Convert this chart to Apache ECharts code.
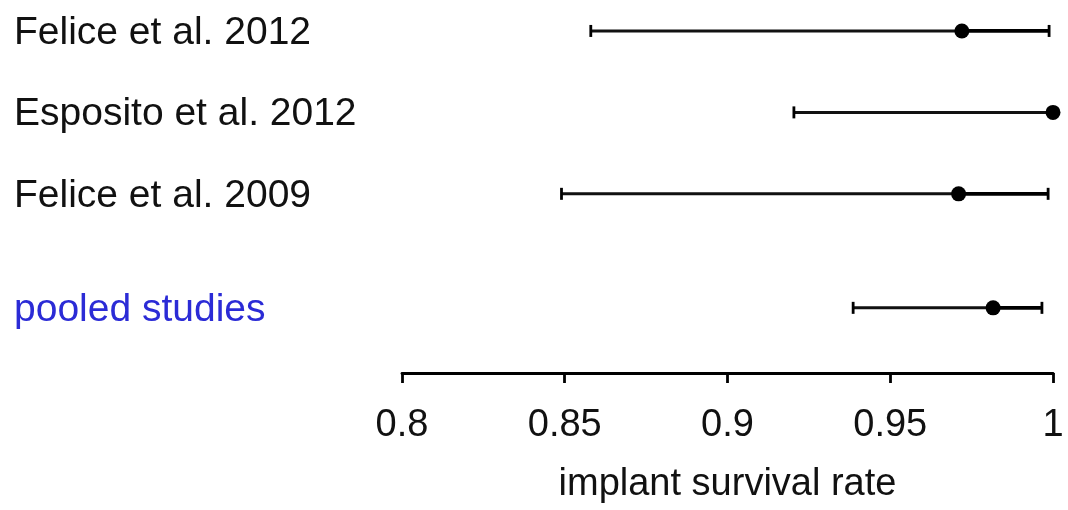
<!DOCTYPE html>
<html>
<head>
<meta charset="utf-8">
<script src="https://cdn.jsdelivr.net/npm/echarts@6/dist/echarts.min.js"></script>
<style>
html,body{margin:0;padding:0;background:#fff;}
#chart{width:1068px;height:510px;}
</style>
</head>
<body>
<div id="chart"></div>
<script>
// ---- data ----
var studies = ['Felice et al. 2012', 'Esposito et al. 2012', 'Felice et al. 2009', 'pooled studies'];
var estimate = [0.972, 1.0, 0.971, 0.9816];
var lower = [0.858, 0.9204, 0.849, 0.9386];
var upper = [0.9988, 1.0, 0.9985, 0.9966];
var xTicks = [0.8, 0.85, 0.9, 0.95, 1];
var xTitle = 'implant survival rate';

// ---- layout (row placement on the vertical value axis) ----
var rowPos = [0, 1, 2, 3.4];
var FONT = '"Liberation Sans", Arial, sans-serif';

var data = studies.map(function (s, i) {
  return [estimate[i], lower[i], upper[i], rowPos[i], i];
});

function renderItem(params, api) {
  var est = api.value(0), lo = api.value(1), hi = api.value(2), y = api.value(3), idx = api.value(4);
  var pLo = api.coord([lo, y]);
  var pHi = api.coord([hi, y]);
  var pEst = api.coord([est, y]);
  var capH = 6;
  var children = [
    { type: 'line', shape: { x1: pLo[0], y1: pLo[1], x2: pEst[0], y2: pEst[1] },
      style: { stroke: '#111', lineWidth: 3 } },
    { type: 'line', shape: { x1: pEst[0], y1: pEst[1], x2: pHi[0], y2: pHi[1] },
      style: { stroke: '#000', lineWidth: 3.8 } },
    { type: 'line', shape: { x1: pLo[0], y1: pLo[1] - capH, x2: pLo[0], y2: pLo[1] + capH },
      style: { stroke: '#000', lineWidth: 2.8 } },
    { type: 'line', shape: { x1: pHi[0], y1: pHi[1] - capH, x2: pHi[0], y2: pHi[1] + capH },
      style: { stroke: '#000', lineWidth: 2.8 } },
    { type: 'circle', shape: { cx: pEst[0], cy: pEst[1], r: 7.5 },
      style: { fill: '#000' } },
    { type: 'text', x: 14, y: pEst[1] + 2,
      style: { text: studies[idx], fill: idx === 3 ? '#2b2bd6' : '#111',
               font: '39px ' + FONT, textAlign: 'left', textVerticalAlign: 'middle' } }
  ];
  return { type: 'group', children: children };
}

var chart = echarts.init(document.getElementById('chart'), null, { renderer: 'canvas' });
chart.setOption({
  animation: false,
  backgroundColor: '#fff',
  grid: { left: 402, right: 15, top: 0, height: 373, containLabel: false },
  xAxis: {
    type: 'value',
    min: xTicks[0],
    max: xTicks[xTicks.length - 1],
    interval: 0.05,
    name: xTitle,
    nameLocation: 'middle',
    nameGap: 93,
    nameTextStyle: { color: '#111', fontSize: 38, fontFamily: FONT },
    axisLine: { show: true, onZero: false, lineStyle: { color: '#000', width: 2.8 } },
    axisTick: { show: true, length: 10, lineStyle: { color: '#000', width: 2.8 } },
    axisLabel: { color: '#111', fontSize: 38, fontFamily: FONT, margin: 34,
                 formatter: function (v) { return String(+v.toFixed(2)); } },
    splitLine: { show: false }
  },
  yAxis: {
    type: 'value',
    inverse: true,
    min: -0.38,
    max: 4.2,
    show: false
  },
  series: [{
    type: 'custom',
    renderItem: renderItem,
    clip: false,
    encode: { x: [0, 1, 2], y: 3 },
    data: data
  }]
});
</script>
</body>
</html>
